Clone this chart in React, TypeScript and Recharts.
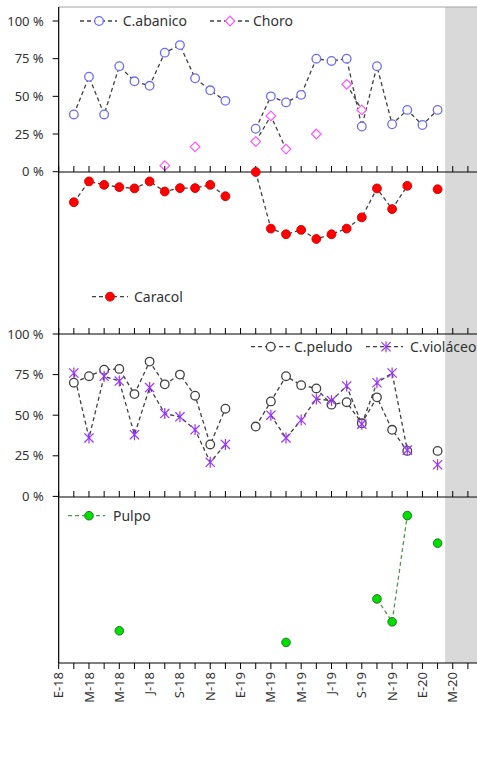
import React from 'react';
import { LineChart, Line, XAxis, YAxis, ReferenceArea, ReferenceLine } from 'recharts';

// month labels, one per month from E-18 (index 0)
const monthTicks = [
  'E-18', 'F-18', 'M-18', 'A-18', 'M-18', 'J-18', 'J-18', 'A-18', 'S-18', 'O-18', 'N-18', 'D-18',
  'E-19', 'F-19', 'M-19', 'A-19', 'M-19', 'J-19', 'J-19', 'A-19', 'S-19', 'O-19', 'N-19', 'D-19',
  'E-20', 'F-20', 'M-20', 'A-20',
];

// percentages by month index
const abanico = [null, 38, 63, 38, 70, 60, 57, 79, 84, 62, 54, 47, null, 28.5, 50, 46, 51, 75, 73.5, 75, 30, 70, 31.5, 41, 31, 41];
const choro = [null, null, null, null, null, null, null, 4, null, 16.5, null, null, null, 20, 37, 15, null, 25, null, 58, 41, null, null, null, null, null];
const caracol = [null, 18.6, 5.8, 7.9, 9.3, 10.1, 5.8, 12, 9.9, 9.9, 7.9, 14.9, null, 0, 34.8, 38.3, 35.6, 41.2, 38.3, 34.8, 27.9, 10.1, 22.8, 8.5, null, 10.6];
const peludo = [null, 70, 74, 78, 78.5, 63, 83, 69, 75, 62, 32, 54, null, 43, 58.5, 74, 68.5, 66.5, 56.5, 58, 45, 61, 41, 28, null, 28];
const violaceo = [null, 76, 36, 74, 71, 38, 67, 51, 49, 41, 21, 32, null, null, 50, 36, 47, 60, 59, 68, 44.5, 70, 76, 28.5, null, 19.5];
const pulpo = [null, null, null, null, 80.6, null, null, null, null, null, null, null, null, null, null, 87.6, null, null, null, null, null, 61.4, 75.2, 11.2, null, 27.8];

const pctTicks = [0, 25, 50, 75, 100];

const rows = monthTicks.map((m, i) => ({
  x: i,
  abanico: abanico[i] ?? null,
  choro: choro[i] ?? null,
  caracol: caracol[i] ?? null,
  peludo: peludo[i] ?? null,
  violaceo: violaceo[i] ?? null,
  pulpo: pulpo[i] ?? null,
}));

const W = 477;
const AXIS_W = 58.67;
const X_MAX = 27.6;
const xTicks = monthTicks.map((_, i) => i);
const FONT = '"Noto Sans", sans-serif';
const TXT = '#333';
const DASH = '4 3';

function Marker({ kind, cx, cy }: { kind: string; cx: number; cy: number }) {
  switch (kind) {
    case 'blue':
      return <circle cx={cx} cy={cy} r={4.3} fill="#fff" stroke="#6b6bff" strokeWidth={1.3} />;
    case 'black':
      return <circle cx={cx} cy={cy} r={4.3} fill="#fff" stroke="#404040" strokeWidth={1.3} />;
    case 'red':
      return <circle cx={cx} cy={cy} r={4.4} fill="#ff0000" stroke="#e00000" strokeWidth={1} />;
    case 'green':
      return <circle cx={cx} cy={cy} r={4.3} fill="#00e000" stroke="#1f7a1f" strokeWidth={1} />;
    case 'diamond':
      return (
        <path
          d={`M${cx},${cy - 4.8} L${cx + 4.8},${cy} L${cx},${cy + 4.8} L${cx - 4.8},${cy} Z`}
          fill="#fff"
          stroke="#ff55ff"
          strokeWidth={1.2}
        />
      );
    case 'star':
      return (
        <g stroke="#9933ff" strokeWidth={1.2}>
          <line x1={cx} y1={cy - 5.5} x2={cx} y2={cy + 5.5} />
          <line x1={cx - 4.6} y1={cy - 4.6} x2={cx + 4.6} y2={cy + 4.6} />
          <line x1={cx - 4.6} y1={cy + 4.6} x2={cx + 4.6} y2={cy - 4.6} />
        </g>
      );
    default:
      return null;
  }
}

const dotFn = (kind: string) => (p: any) => {
  const key = `d-${kind}-${p.index}`;
  if (p.value == null || p.cy == null || Number.isNaN(p.cy)) return <g key={key} />;
  return (
    <g key={key}>
      <Marker kind={kind} cx={p.cx} cy={p.cy} />
    </g>
  );
};

const series = (key: string, kind: string, stroke = '#404040') => (
  <Line
    key={key}
    dataKey={key}
    type="linear"
    stroke={stroke}
    strokeWidth={1.3}
    strokeDasharray={DASH}
    dot={dotFn(kind)}
    activeDot={false}
    isAnimationActive={false}
  />
);

const EmptyTick = () => <g />;

const XTick = (props: any) => {
  const { x, y, payload } = props;
  const label = payload.value % 2 === 0 ? monthTicks[payload.value] : '';
  return (
    <text
      x={x}
      y={y}
      transform={`rotate(-90 ${x} ${y})`}
      textAnchor="end"
      dy="0.35em"
      fontSize={13}
      fontFamily={FONT}
      fill={TXT}
    >
      {label}
    </text>
  );
};

type PanelProps = {
  top: number;
  bottom: number;
  domain: [number, number];
  reversed?: boolean;
  labels?: boolean;
  first?: boolean;
  last?: boolean;
  children: React.ReactNode;
};

const axisLine = { stroke: '#000', strokeWidth: 1.2 };
const tickLine = { stroke: '#000', strokeWidth: 1 };

function Panel({ top, bottom, domain, reversed, labels, first, last, children }: PanelProps) {
  const topAxisH = first ? 0 : 10;
  const mTop = first ? 10 : 0;
  const bottomAxisH = last ? 60 : 0;
  const mBottom = last ? 0 : 10;
  const h = bottom - top;
  return (
    <div style={{ position: 'absolute', left: 0, top: top - mTop - topAxisH }}>
      <LineChart
        width={W}
        height={h + mTop + topAxisH + bottomAxisH + mBottom}
        data={rows}
        margin={{ top: mTop, right: 0, bottom: mBottom, left: 0 }}
      >
        <ReferenceArea x1={25.5} x2={X_MAX} fill="#d9d9d9" fillOpacity={1} strokeOpacity={0} />
        {first && <ReferenceLine y={domain[1]} stroke="#a6a6a6" strokeWidth={1} />}
        {last ? (
          <XAxis
            type="number"
            dataKey="x"
            domain={[0, X_MAX]}
            ticks={xTicks}
            interval={0}
            height={bottomAxisH}
            tick={<XTick />}
            tickSize={6}
            tickMargin={3}
            axisLine={axisLine}
            tickLine={tickLine}
          />
        ) : (
          <XAxis type="number" dataKey="x" domain={[0, X_MAX]} hide />
        )}
        {!first && (
          <XAxis
            xAxisId="top"
            orientation="top"
            type="number"
            dataKey="x"
            domain={[0, X_MAX]}
            ticks={xTicks}
            interval={0}
            height={topAxisH}
            tick={EmptyTick}
            tickSize={6}
            tickMargin={0}
            axisLine={axisLine}
            tickLine={tickLine}
          />
        )}
        <YAxis
          type="number"
          domain={domain}
          reversed={reversed}
          width={AXIS_W}
          ticks={pctTicks}
          interval={0}
          tickFormatter={(v: number) => `${v} %`}
          tick={labels ? { fontSize: 13, fontFamily: FONT, fill: TXT } : EmptyTick}
          tickLine={labels ? tickLine : false}
          tickSize={6}
          tickMargin={9}
          axisLine={axisLine}
        />
        {children}
      </LineChart>
    </div>
  );
}

type LegendEntry = { x1: number; x2: number; mx: number; tx: number; y: number; kind: string; label: string; stroke?: string };

const legendEntries: LegendEntry[] = [
  { x1: 80, x2: 117, mx: 99, tx: 122.7, y: 21, kind: 'blue', label: 'C.abanico' },
  { x1: 210, x2: 250, mx: 230, tx: 253, y: 21, kind: 'diamond', label: 'Choro' },
  { x1: 92, x2: 128, mx: 110, tx: 134, y: 296.7, kind: 'red', label: 'Caracol' },
  { x1: 251, x2: 290, mx: 270.7, tx: 294, y: 346.7, kind: 'black', label: 'C.peludo' },
  { x1: 366, x2: 403, mx: 386, tx: 410, y: 346.7, kind: 'star', label: 'C.violáceo' },
  { x1: 68, x2: 105, mx: 89, tx: 113, y: 515.7, kind: 'green', label: 'Pulpo', stroke: '#4f9a4f' },
];

function Legends() {
  return (
    <svg width={W} height={782} style={{ position: 'absolute', left: 0, top: 0, pointerEvents: 'none' }}>
      {legendEntries.map((e) => (
        <g key={e.label}>
          <line x1={e.x1} y1={e.y} x2={e.x2} y2={e.y} stroke={e.stroke ?? '#404040'} strokeWidth={1.3} strokeDasharray={DASH} />
          <Marker kind={e.kind} cx={e.mx} cy={e.y} />
          <text x={e.tx} y={e.y} dy="0.35em" fontSize={14} fontFamily={FONT} fill={TXT}>
            {e.label}
          </text>
        </g>
      ))}
    </svg>
  );
}

export default function App() {
  return (
    <div style={{ position: 'absolute', left: 0, top: 0, width: W, height: 782, background: '#fff', fontFamily: FONT }}>
      <Panel top={7} bottom={171.7} domain={[0, 109.3]} labels first>
        {series('abanico', 'blue')}
        {series('choro', 'diamond')}
      </Panel>
      <Panel top={171.7} bottom={334.3} domain={[0, 100]} reversed>
        {series('caracol', 'red')}
      </Panel>
      <Panel top={334.3} bottom={496.7} domain={[0, 100]} labels>
        {series('peludo', 'black')}
        {series('violaceo', 'star')}
      </Panel>
      <Panel top={496.7} bottom={662.7} domain={[0, 100]} reversed last>
        {series('pulpo', 'green', '#4f9a4f')}
      </Panel>
      <Legends />
    </div>
  );
}
